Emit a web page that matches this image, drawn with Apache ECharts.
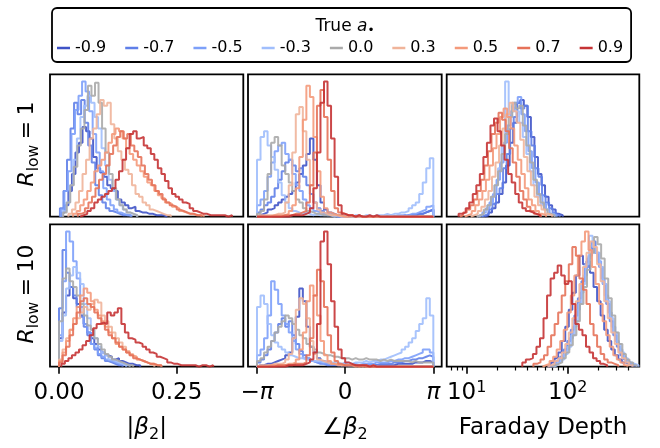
<!DOCTYPE html>
<html><head><meta charset="utf-8">
<script src="https://cdn.jsdelivr.net/npm/echarts@6/dist/echarts.min.js"></script>
<style>html,body{margin:0;padding:0;background:#fff}#c{width:660px;height:448px}</style>
</head><body><div id="c"></div>
<script>
const trueA = ['-0.9','-0.7','-0.5','-0.3','0.0','0.3','0.5','0.7','0.9'];
const lineColors = ['#3f53c6','#5f7fe8','#7da0f9','#a0befc','#aaaaaa','#f0b49a','#f49a7b','#e67259','#c53334'];

// |beta_2| histograms (bin width in data units)
const absBinWidth = 0.0075;
const absR1Start = [0.005, 0.002, 0.004, 0.008, 0.009, 0.02, 0.03, 0.04, 0.045];
const absR1Counts = [
  [3,8,18,30,45,52,63,60,55,42,34,31,28,22,20,18,12,10,8,6,7,4,3,3,2,2,1,1,1,0],
  [6,18,40,62,80,72,82,66,50,38,22,15,10,6,4,3,2,1,1,1],
  [5,18,32,58,75,85,95,88,74,58,45,32,20,12,8,5,3,2,1,1],
  [4,10,22,40,55,70,78,85,80,70,62,48,36,26,18,12,8,5,3,2,1],
  [3,10,22,35,50,62,75,92,85,94,80,62,45,30,20,12,8,5,3,2,1],
  [2,5,10,18,30,40,55,62,72,82,78,80,65,55,46,40,33,30,22,16,14,10,8,5,4,3,2,1,1],
  [2,4,8,12,18,24,32,36,40,45,52,58,62,60,55,48,44,40,36,32,28,24,22,18,15,13,10,9,7,6,4,3,2,2,1,1,1],
  [2,3,6,10,14,20,26,30,36,44,50,56,60,55,58,50,46,42,36,30,26,22,18,16,12,10,8,7,5,4,3,2,2,1,1],
  [1,2,4,6,10,12,14,16,18,20,26,32,40,48,58,60,55,56,50,48,44,40,34,30,25,20,16,14,12,10,9,6,4,3,2,2,1,1,1,1,1,0,1]
];
const absR10Start = [0, 0, 0, 0, 0, 0, 0, 0, 0.005];
const absR10Counts = [
  [20,38,50,56,48,44,36,30,24,20,16,12,10,8,7,5,6,4,3,2,2,1,1],
  [41,82,66,56,50,42,35,28,22,16,12,8,6,4,3,2,1,1],
  [22,60,95,88,74,62,42,30,24,16,13,9,7,5,4,3,2,2,1],
  [18,36,55,64,70,66,58,44,34,26,20,14,10,8,5,4,3,2,1,1],
  [32,62,69,60,56,50,44,36,29,26,20,16,12,9,7,5,4,3,2,1,1],
  [5,12,20,26,30,34,38,42,40,44,47,45,36,32,28,24,20,17,14,11,9,7,5,4,3,2,1],
  [4,10,18,26,34,42,50,55,52,46,40,36,32,28,24,20,16,14,12,10,8,7,5,4,3,2,2,1,1],
  [3,8,14,22,30,38,46,48,44,42,38,34,30,26,22,20,17,14,12,10,8,6,5,4,3,2,2,1,1],
  [2,4,6,8,10,12,15,18,22,27,30,31,30,38,36,38,41,30,24,20,19,17,16,14,12,10,9,7,6,5,3,2,2,1,1,1,1,1,0,1,1,0,1]
];

// angle of beta_2: 50 bins from -pi to pi
const angStart = -Math.PI;
const angBinWidth = 2 * Math.PI / 50;
const angR1Counts = [
  [1,2,3,5,6,8,10,12,14,16,18,24,30,36,44,55,40,22,10,5,3,2,1,1,0,0,0,0,0,0,0,0,0,0,0,0,0,0,0,0,0,0,1,1,1,2,2,3,4,5],
  [3,5,8,10,14,20,26,32,38,40,36,32,34,28,22,16,10,6,4,2,1,1,0,0,0,0,0,0,0,0,0,0,0,0,0,0,0,0,0,0,0,1,0,1,1,2,2,3,4,5],
  [8,12,18,28,38,46,50,52,44,40,30,22,18,12,8,6,4,3,2,1,1,1,0,0,0,0,0,0,0,0,0,0,0,0,0,0,0,1,0,1,1,1,1,2,2,3,4,5,7,8],
  [40,56,60,50,42,33,24,15,10,6,4,3,2,3,2,1,2,1,1,1,1,0,1,0,0,1,0,1,1,0,1,1,0,1,1,1,2,1,2,2,3,3,4,6,8,10,16,24,34,41],
  [2,4,12,30,52,56,50,36,30,24,18,12,10,6,4,3,2,2,1,1,1,1,1,1,0,0,0,0,0,0,0,0,0,0,0,0,0,0,0,0,0,0,0,0,0,0,0,0,0,0],
  [1,1,1,1,1,2,2,3,10,22,45,72,77,60,40,22,10,5,3,2,1,1,1,0,0,0,0,0,0,0,0,0,0,0,0,0,0,0,0,0,0,0,0,0,0,0,0,0,0,0],
  [0,0,0,0,1,1,1,1,2,4,8,20,42,68,92,84,56,32,14,6,3,2,1,1,0,0,1,0,0,0,0,0,0,0,0,0,0,0,0,0,0,0,0,0,0,0,0,0,0,0],
  [0,0,0,0,0,0,0,1,1,1,2,2,3,4,10,22,45,78,89,70,40,18,6,3,2,1,1,0,1,0,0,0,0,0,0,0,0,0,0,0,0,0,0,0,0,0,0,0,0,0],
  [0,0,0,0,0,0,0,0,0,1,1,1,1,2,3,6,20,45,80,95,78,55,28,8,2,1,1,0,1,0,0,1,0,1,0,0,0,0,0,0,0,0,0,0,0,0,0,0,0,0]
];
const angR10Counts = [
  [1,1,2,2,3,4,5,6,8,10,20,35,55,46,28,14,10,6,4,3,2,2,1,1,1,1,1,1,1,1,1,1,1,1,1,1,1,1,1,2,2,2,2,2,3,3,3,4,4,3],
  [3,5,8,12,18,24,30,34,28,32,22,16,11,8,6,4,3,2,2,1,1,1,1,1,1,1,1,1,1,1,1,1,2,1,2,2,2,2,3,3,3,4,4,5,5,6,6,7,8,7],
  [8,12,20,36,60,54,44,36,30,24,18,12,9,6,5,4,3,3,2,2,2,2,2,1,2,1,1,2,1,2,2,2,2,3,3,3,3,4,4,5,5,6,6,7,8,9,10,12,12,10],
  [42,50,44,30,22,17,14,12,10,8,7,6,6,5,5,4,4,4,3,4,3,3,3,2,3,3,2,3,3,3,4,3,4,4,5,5,6,7,8,9,10,12,14,17,20,25,30,34,48,36],
  [4,6,10,14,18,24,28,32,36,34,30,26,22,20,16,14,12,10,9,8,8,7,7,6,6,6,5,6,5,5,6,5,5,5,4,5,4,5,4,4,4,4,4,3,4,3,3,3,3,3],
  [1,1,1,1,2,2,2,3,5,9,20,40,48,44,34,18,9,5,4,3,2,2,2,1,1,1,1,1,0,1,0,0,1,0,0,0,0,0,0,0,0,0,0,0,0,0,0,0,0,0],
  [0,0,0,1,1,1,1,1,2,2,3,5,12,24,46,57,50,36,18,8,4,2,1,1,1,1,1,0,1,0,1,0,0,0,0,0,0,0,0,0,0,0,0,0,0,0,0,0,0,0],
  [0,0,0,0,0,1,1,1,1,1,2,2,2,3,8,20,50,68,60,42,22,10,4,2,1,1,1,1,0,1,0,0,0,0,0,0,0,0,0,0,0,0,0,0,0,0,0,0,0,0],
  [0,0,0,0,0,0,0,0,1,1,1,1,1,2,3,5,10,30,88,95,72,46,28,12,6,3,2,1,1,1,1,0,1,0,0,0,0,0,0,0,0,0,0,0,0,0,0,0,0,0]
];

// Faraday depth: bins in log10 space
const fdLogBinWidth = 0.035;
const fdR1LogStart = [1.18, 1.15, 1.12, 1.10, 1.10, 1.04, 0.98, 0.93, 0.92];
const fdR1Counts = [
  [1,3,6,10,16,24,36,52,66,80,82,78,70,56,42,30,22,14,8,5,2,1],
  [1,2,5,9,16,20,34,44,62,70,80,76,78,60,50,34,28,15,10,6,3,1],
  [1,3,6,10,16,26,38,52,64,74,80,84,72,60,46,34,24,15,9,5,2,1],
  [1,2,4,8,14,22,34,50,95,70,78,74,66,56,44,32,22,14,8,5,2,1],
  [1,2,5,8,14,22,32,44,58,70,80,76,78,64,50,38,26,16,10,5,2,1],
  [1,2,4,7,12,18,28,38,50,62,72,80,74,66,54,42,32,22,14,8,5,2,1],
  [1,2,4,8,12,18,26,36,48,58,70,76,70,62,50,40,30,20,12,8,4,2,1],
  [1,3,5,8,12,18,26,36,46,58,66,73,68,60,48,38,28,18,12,7,4,2,1],
  [2,3,6,10,16,22,30,42,52,64,69,60,50,40,30,24,16,10,6,4,3,2,1]
];
const fdR10LogStart = [1.80, 1.82, 1.84, 1.86, 1.84, 1.80, 1.75, 1.66, 1.55];
const fdR10Counts = [
  [1,3,6,10,18,28,40,52,64,78,72,74,66,56,46,36,26,18,12,8,5,3,2,1],
  [1,2,4,7,12,18,26,36,48,60,70,78,88,80,70,58,44,32,22,14,8,5,3,1],
  [1,2,4,8,12,20,28,40,52,64,76,85,80,74,62,50,38,28,18,12,7,4,2,1],
  [1,3,5,9,14,22,32,44,58,72,92,84,80,70,58,46,34,24,16,10,6,3,2,1],
  [1,2,3,6,10,15,22,32,44,56,68,80,91,86,76,62,48,36,24,16,9,5,3,1],
  [1,2,4,6,10,16,24,34,46,58,70,80,88,84,72,60,46,34,24,16,10,6,3,1],
  [1,2,4,7,12,18,26,38,50,64,78,88,95,82,70,58,44,32,22,14,8,5,3,1],
  [2,3,5,8,14,22,30,38,50,60,72,84,78,62,54,44,30,22,14,9,5,3,2,1],
  [3,5,6,9,14,20,34,50,62,66,71,64,58,60,44,30,26,22,14,10,6,4,2,1]
];

// tick values
const absTicks = [0, 0.25];
const angTicks = [-Math.PI, 0, Math.PI];
const fdMajorTicks = [10, 100];
const fdMinorTicks = [7, 8, 9, 20, 30, 40, 50, 60, 70, 80, 90, 200, 300, 400];

const FONT = 'DejaVu Sans';
const chart = echarts.init(document.getElementById('c'), null, {renderer: 'canvas'});

const colLeft = [50, 248, 446.7];
const colWidth = [193.3, 193.7, 192.6];
const rowTop = [74.3, 224.3];
const rowHeight = 142.4;
const xRanges = [[-0.0191, 0.3915], [-3.462, 3.440], [Math.log10(6.34), Math.log10(510)]];

const panels = [
  {starts: absR1Start, w: absBinWidth, counts: absR1Counts},
  {starts: trueA.map(() => angStart), w: angBinWidth, counts: angR1Counts},
  {starts: fdR1LogStart, w: fdLogBinWidth, counts: fdR1Counts},
  {starts: absR10Start, w: absBinWidth, counts: absR10Counts},
  {starts: trueA.map(() => angStart), w: angBinWidth, counts: angR10Counts},
  {starts: fdR10LogStart, w: fdLogBinWidth, counts: fdR10Counts}
];

function histPoints(start, w, counts) {
  const pts = [[start, 0]];
  counts.forEach((c, i) => pts.push([start + i * w, c]));
  pts.push([start + counts.length * w, 0]);
  return pts;
}

const labelRich = {
  n: {fontSize: 23, fontFamily: FONT, color: '#000', lineHeight: 26},
  i: {fontSize: 23, fontFamily: FONT, fontStyle: 'italic', color: '#000', lineHeight: 26},
  sup: {fontSize: 16, fontFamily: FONT, color: '#000', lineHeight: 16, verticalAlign: 'top'}
};
const tickValues = [absTicks, angTicks, fdMajorTicks.map(v => Math.log10(v))];
const tickFormatters = [
  v => '{n|' + v.toFixed(2) + '}',
  v => v < -1 ? '{n|\u2212}{i|\u03c0}' : (v > 1 ? '{i|\u03c0}' : '{n|0}'),
  v => '{n|10}{sup|' + Math.round(v) + '}'
];

const grids = [], xAxes = [], yAxes = [], series = [];
for (let p = 0; p < 6; p++) {
  const row = Math.floor(p / 3), col = p % 3;
  grids.push({left: colLeft[col], top: rowTop[row], width: colWidth[col], height: rowHeight,
    show: true, borderColor: '#000', borderWidth: 1.8, backgroundColor: 'rgba(0,0,0,0)',
    containLabel: false, outerBoundsMode: 'none'});
  const bottom = row === 1;
  xAxes.push({gridIndex: p, type: 'value', position: 'bottom', min: xRanges[col][0], max: xRanges[col][1],
    axisLine: {show: false}, splitLine: {show: false},
    axisTick: {show: bottom, customValues: tickValues[col], length: 7, lineStyle: {color: '#000', width: 1.6}},
    axisLabel: {show: bottom, customValues: tickValues[col], formatter: tickFormatters[col], margin: 13,
      rich: labelRich, fontFamily: FONT, fontSize: 23, color: '#000'}});
  yAxes.push({gridIndex: p, type: 'value', min: 0, max: 100, show: false});
  const pan = panels[p];
  for (let k = 0; k < 9; k++) {
    series.push({type: 'line', name: trueA[k], xAxisIndex: p, yAxisIndex: p, step: 'end',
      data: histPoints(pan.starts[k], pan.w, pan.counts[k]),
      symbol: 'none', showSymbol: false, silent: true, animation: false,
      itemStyle: {color: lineColors[k]},
      lineStyle: {color: lineColors[k], width: 2, opacity: 0.9},
      emphasis: {disabled: true}});
  }
}
// minor ticks for the log-scaled Faraday depth axis
xAxes.push({gridIndex: 5, type: 'value', position: 'bottom', min: xRanges[2][0], max: xRanges[2][1],
  axisLine: {show: false}, splitLine: {show: false}, axisLabel: {show: false},
  axisTick: {show: true, customValues: fdMinorTicks.map(v => Math.log10(v)), length: 3.8, lineStyle: {color: '#000', width: 1.2}}});

const mainRich = {
  n: {fontSize: 23, fontFamily: FONT, fill: '#000', lineHeight: 30},
  i: {fontSize: 23, fontFamily: FONT, fontStyle: 'italic', fill: '#000', lineHeight: 30},
  s: {fontSize: 16, fontFamily: FONT, fill: '#000', lineHeight: 14, verticalAlign: 'bottom'}
};
const rowRich = {
  n: {fontSize: 22, fontFamily: FONT, fill: '#000', lineHeight: 29},
  i: {fontSize: 22, fontFamily: FONT, fontStyle: 'italic', fill: '#000', lineHeight: 29},
  s: {fontSize: 15.5, fontFamily: FONT, fill: '#000', lineHeight: 13.5, verticalAlign: 'bottom'}
};
const legRich = {
  n: {fontSize: 17, fontFamily: FONT, fill: '#000', lineHeight: 20},
  i: {fontSize: 17, fontFamily: FONT, fontStyle: 'italic', fill: '#000', lineHeight: 20},
  s: {fontSize: 12, fontFamily: FONT, fill: '#000', lineHeight: 10, verticalAlign: 'bottom'}
};
function txt(x, y, text, rich, rot) {
  return {type: 'text', x: x, y: y, rotation: rot || 0, silent: true,
    style: {text: text, rich: rich, align: 'center', verticalAlign: 'middle', fill: '#000', fontFamily: FONT}};
}

chart.setOption({
  animation: false,
  backgroundColor: '#fff',
  grid: grids, xAxis: xAxes, yAxis: yAxes, series: series,
  legend: {data: trueA, left: 52, top: 8, orient: 'horizontal', icon: 'rect', itemWidth: 13, itemHeight: 2.5,
    itemGap: 19, padding: [32, 8, 6, 5], borderColor: '#000', borderWidth: 1.8, borderRadius: 5,
    selectedMode: false, textStyle: {fontSize: 16, fontFamily: FONT, color: '#000'}},
  graphic: [
    txt(345, 27, '{n|True }{i|a}{s|\u2022}', legRich),
    txt(27, 144, '{i|R}{s|low}{n|\u2005=\u20051}', rowRich, Math.PI / 2),
    txt(27, 294, '{i|R}{s|low}{n|\u2005=\u200510}', rowRich, Math.PI / 2),
    txt(146.7, 428, '{n||}{i|\u03b2}{s|2}{n||}', mainRich),
    txt(345, 428, '{n|\u2220}{i|\u03b2}{s|2}', mainRich),
    txt(543, 428, '{n|Faraday Depth}', mainRich)
  ]
});
</script></body></html>
